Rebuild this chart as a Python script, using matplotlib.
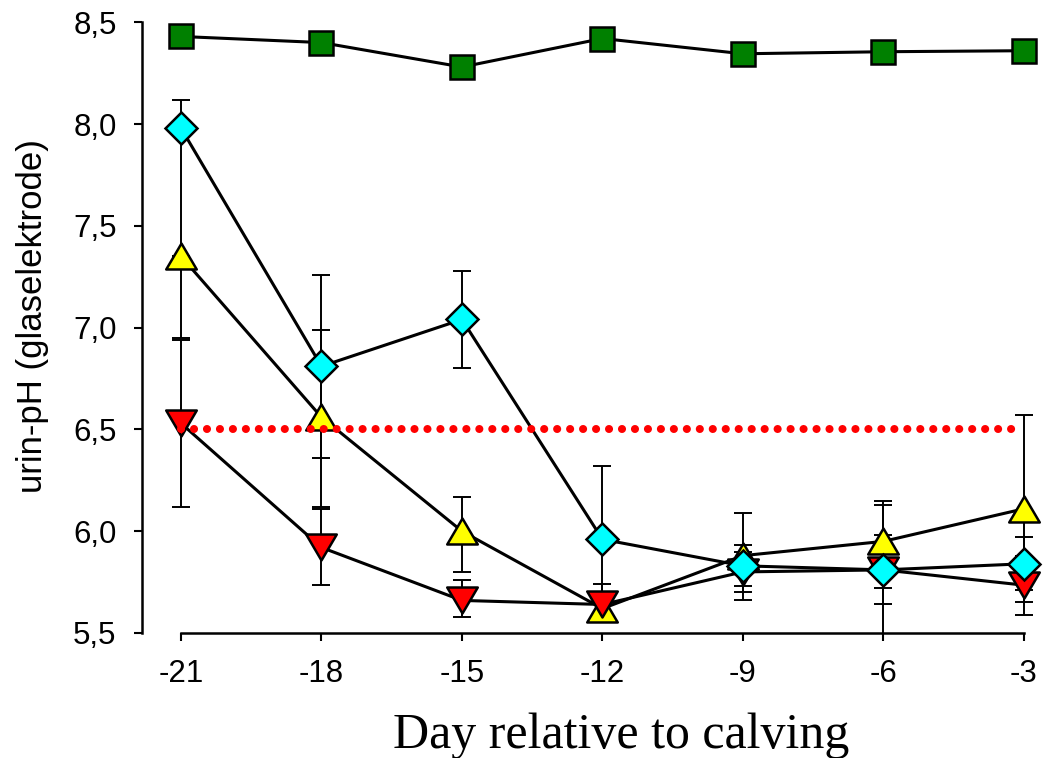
import numpy as np
import matplotlib.pyplot as plt
from matplotlib.path import Path

# Day relative to calving
days = [-21, -18, -15, -12, -9, -6, -3]
xtick_labels = ['-21', '-18', '-15', '-12', '-9', '-6', '-3']

yticks = [5.5, 6.0, 6.5, 7.0, 7.5, 8.0, 8.5]
ytick_labels = ['5,5', '6,0', '6,5', '7,0', '7,5', '8,0', '8,5']

# urin-pH per group
green = [8.43, 8.40, 8.28, 8.42, 8.345, 8.355, 8.36]

cyan = [7.98, 6.81, 7.04, 5.96, 5.83, 5.81, 5.84]
cyan_lo = [0.68, 0.45, 0.24, 0.36, 0.10, 0.32, 0.13]
cyan_hi = [0.14, 0.45, 0.24, 0.36, 0.10, 0.32, 0.13]

yellow = [7.35, 6.56, 6.00, 5.62, 5.88, 5.95, 6.11]
yellow_lo = [0.40, 0.44, 0.20, 0.055, 0.22, 0.23, 0.46]
yellow_hi = [0.0, 0.43, 0.17, 0.05, 0.21, 0.20, 0.46]

red = [6.53, 5.92, 5.66, 5.64, 5.80, 5.81, 5.735]
red_lo = [0.41, 0.185, 0.08, 0.075, 0.10, 0.17, 0.145]
red_hi = [0.41, 0.19, 0.10, 0.10, 0.10, 0.17, 0.145]

threshold = 6.5

# equilateral-ish triangles, centred on their bounding box
tri_up = Path([(-1, -0.85), (1, -0.85), (0, 0.85), (-1, -0.85)], closed=True)
tri_down = Path([(-1, 0.85), (1, 0.85), (0, -0.85), (-1, 0.85)], closed=True)

fig = plt.figure(figsize=(10.51, 7.58), dpi=100)
ax = fig.add_axes([0.1351, 0.16491, 0.8649, 0.8219])

# error bars underneath everything
for vals, lo, hi in [(yellow, yellow_lo, yellow_hi), (red, red_lo, red_hi), (cyan, cyan_lo, cyan_hi)]:
    ax.errorbar(days, vals, yerr=[lo, hi], fmt='none', ecolor='black',
                elinewidth=1.4, capsize=6.8, capthick=1.4, zorder=1)

# connecting lines
for vals in [green, yellow, red, cyan]:
    ax.plot(days, vals, color='black', lw=2.2, zorder=2)

# markers
ax.plot(days, yellow, ls='none', marker=tri_up, ms=22, mfc='#FFFF00', mec='black', mew=1.8, zorder=3)
ax.plot(days, red, ls='none', marker=tri_down, ms=22, mfc='#FF0000', mec='black', mew=1.8, zorder=3)
ax.plot(days, cyan, ls='none', marker='D', ms=16.8, mfc='#00FFFF', mec='black', mew=1.8, zorder=3)
ax.plot(days, green, ls='none', marker='s', ms=17, mfc='#008000', mec='black', mew=1.8, zorder=3,
        clip_on=False)

# reference line at pH 6,5
ax.hlines(threshold, days[0], days[-1], colors='#FF0000', lw=5.8,
          linestyles=[(0, (0.01, 1.6))], capstyle='round', zorder=4)

ax.set_xlim(-21.833, -2.42)
ax.set_ylim(5.5, 8.56)

for s in ['top', 'right']:
    ax.spines[s].set_visible(False)
ax.spines['left'].set_bounds(5.5, 8.5)
ax.spines['bottom'].set_bounds(-21, -3)
ax.spines['left'].set_linewidth(1.8)
ax.spines['bottom'].set_linewidth(1.8)

ax.set_xticks(days)
ax.set_xticklabels(xtick_labels, fontfamily='Liberation Sans')
ax.set_yticks(yticks)
ax.set_yticklabels(ytick_labels, fontfamily='Liberation Sans')
ax.tick_params(axis='y', direction='out', length=5.8, width=1.5, labelsize=22.5, pad=12.5)
ax.tick_params(axis='x', direction='out', length=6, width=1.5, labelsize=22.5, pad=12.5)

ax.set_ylabel('urin-pH (glaselektrode)', fontfamily='Liberation Sans', fontsize=25,
              va='baseline', ha='center')
ax.yaxis.set_label_coords(42 / 1051, 1 - 316 / 758, transform=fig.transFigure)

ax.set_xlabel('Day relative to calving', fontfamily='Liberation Serif', fontsize=36,
              va='baseline', ha='center')
ax.xaxis.set_label_coords(621 / 1051, 1 - 748 / 758, transform=fig.transFigure)

fig.savefig('out.png', dpi=100)
